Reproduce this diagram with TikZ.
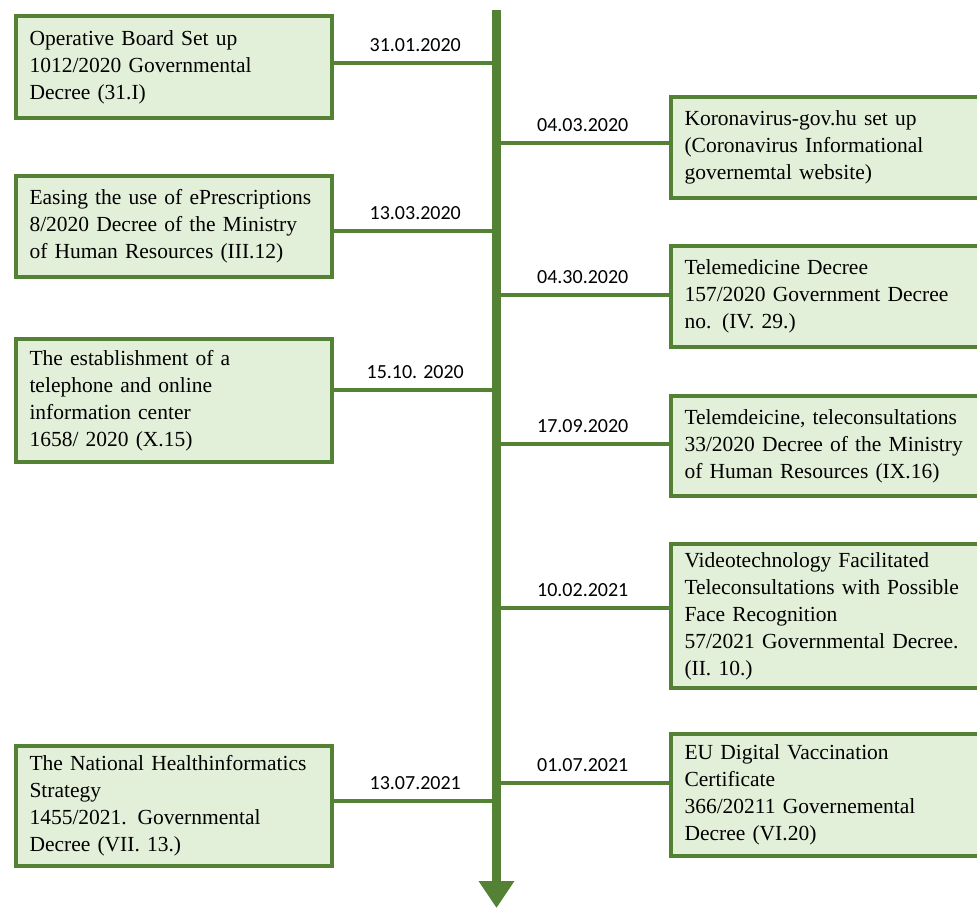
\documentclass[tikz,border=0pt]{standalone}
\usepackage{fontspec}
\setmainfont{Liberation Serif}
\newfontfamily\datefont{Carlito}
\usetikzlibrary{arrows.meta}
\definecolor{gborder}{RGB}{84,130,53}
\definecolor{gfill}{RGB}{226,239,217}
\tikzset{
  evbox/.style={draw=gborder, fill=gfill, line width=4pt, inner xsep=13.5pt, inner ysep=0pt,
    align=left, anchor=north west, text width=289pt, font=\fontsize{21.5}{27}\selectfont},
  conn/.style={draw=gborder, line width=3.5pt},
  datelbl/.style={font=\datefont\fontsize{20}{24}\selectfont, anchor=base, yshift=11.5pt, inner sep=0pt, text=black},
  spine/.style={draw=gborder, line width=9pt, -{Triangle[width=34pt,length=27pt]}}
}
\begin{document}
\begin{tikzpicture}[x=1pt,y=-1pt]
\clip (0,0) rectangle (977,910);
\fill[white] (0,0) rectangle (977,910);
\coordinate (stop) at (496.5,10);
\coordinate (sbot) at (496.5,908);
% left boxes
\node[evbox, minimum height=102pt] (L1) at (14,14) {Operative Board Set up\\1012/2020 Governmental\\Decree (31.I)};
\node[evbox, minimum height=101pt] (L2) at (14,174) {Easing the use of ePrescriptions\\8/2020 Decree of the Ministry\\of Human Resources (III.12)};
\node[evbox, minimum height=123pt] (L3) at (14,337) {The establishment of a\\telephone and online\\information center\\1658/ 2020 (X.15)};
\node[evbox, minimum height=120pt] (L4) at (14,744) {The National Healthinformatics\\Strategy\\1455/2021. Governmental\\Decree (VII. 13.)};
% right boxes
\node[evbox, minimum height=101pt] (R1) at (669,95) {Koronavirus-gov.hu set up\\(Coronavirus Informational\\governemtal website)};
\node[evbox, minimum height=101pt] (R2) at (669,244) {Telemedicine Decree\\157/2020 Government Decree\\no. (IV. 29.)};
\node[evbox, minimum height=100pt] (R3) at (669,394) {Telemdeicine, teleconsultations\\33/2020 Decree of the Ministry\\of Human Resources (IX.16)};
\node[evbox, minimum height=144pt] (R4) at (669,542) {Videotechnology Facilitated\\Teleconsultations with Possible\\Face Recognition\\57/2021 Governmental Decree.\\(II. 10.)};
\node[evbox, minimum height=122pt] (R5) at (669,732) {EU Digital Vaccination\\Certificate\\366/20211 Governemental\\Decree (VI.20)};
% connectors
\draw[conn] (L1.east |- 0,63) -- (stop |- 0,63) node[datelbl, midway]{31.01.2020};
\draw[conn] (L2.east |- 0,231) -- (stop |- 0,231) node[datelbl, midway]{13.03.2020};
\draw[conn] (L3.east |- 0,390) -- (stop |- 0,390) node[datelbl, midway]{15.10. 2020};
\draw[conn] (L4.east |- 0,801) -- (stop |- 0,801) node[datelbl, midway]{13.07.2021};
\draw[conn] (R1.west |- 0,143) -- (stop |- 0,143) node[datelbl, midway]{04.03.2020};
\draw[conn] (R2.west |- 0,295) -- (stop |- 0,295) node[datelbl, midway]{04.30.2020};
\draw[conn] (R3.west |- 0,444) -- (stop |- 0,444) node[datelbl, midway]{17.09.2020};
\draw[conn] (R4.west |- 0,608) -- (stop |- 0,608) node[datelbl, midway]{10.02.2021};
\draw[conn] (R5.west |- 0,783) -- (stop |- 0,783) node[datelbl, midway]{01.07.2021};
% spine
\draw[spine] (stop) -- (sbot);
\end{tikzpicture}
\end{document}
